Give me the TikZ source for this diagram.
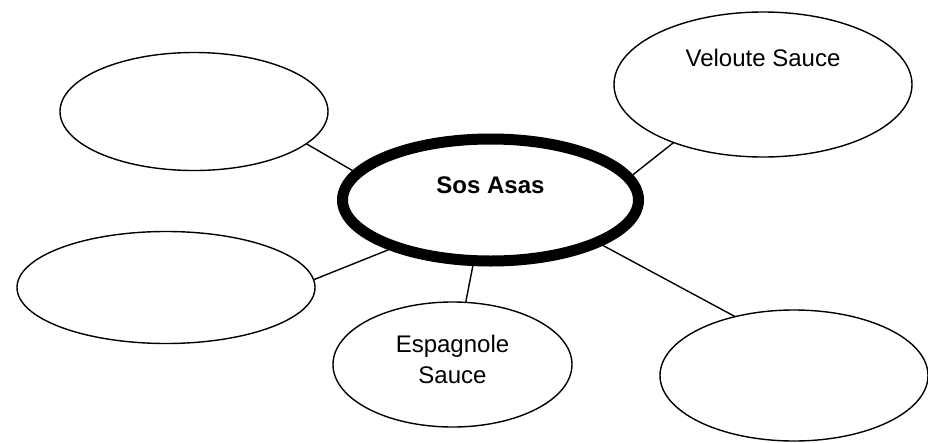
\documentclass[tikz,border=0pt]{standalone}
\usepackage{fontspec}
\setmainfont{Liberation Sans}
\usetikzlibrary{shapes.geometric}

\begin{document}
\begin{tikzpicture}[x=1pt, y=-1pt,
        bubble/.style={draw, ellipse, line width=1.4pt, inner sep=0pt, outer sep=0pt},
        hub/.style={bubble, line width=11pt, outer sep=5.5pt},
        link/.style={line width=1.4pt},
        saucetext/.style={font=\fontsize{24}{31}\selectfont, align=center}]
        % Frame
        \useasboundingbox (0,0) rectangle (928,442);

        % The centre
        \node[hub, minimum width=296pt, minimum height=122pt,
              label={[saucetext, font=\fontsize{24}{31}\selectfont\bfseries, yshift=15pt]center:Sos Asas}]
              (Centre) at (490.5,200) {};

        % Outer bubbles
        \node[bubble, minimum width=268pt, minimum height=118pt] (TopLeft) at (194,111.5) {};
        \node[bubble, minimum width=298pt, minimum height=112pt] (MidLeft) at (166,287.5) {};
        \node[bubble, minimum width=298pt, minimum height=145pt,
              label={[saucetext, yshift=27pt]center:Veloute Sauce}] (Veloute) at (763,84.5) {};
        \node[bubble, minimum width=239pt, minimum height=125pt,
              label={[saucetext, yshift=5pt]center:Espagnole\\Sauce}] (Espagnole) at (452.5,364.5) {};
        \node[bubble, minimum width=268pt, minimum height=131pt] (BotRight) at (794,375.5) {};

        % Spokes
        \draw[link] (TopLeft.-16) -- (Centre.168);
        \draw[link] (Centre.10.5) -- (Veloute.213.5);
        \draw[link] (MidLeft.3) -- (Centre.206);
        \draw[link] (Centre.255) -- (Espagnole.78);
        \draw[link] (Centre.-22) -- (BotRight.135);
    \end{tikzpicture}
\end{document}
